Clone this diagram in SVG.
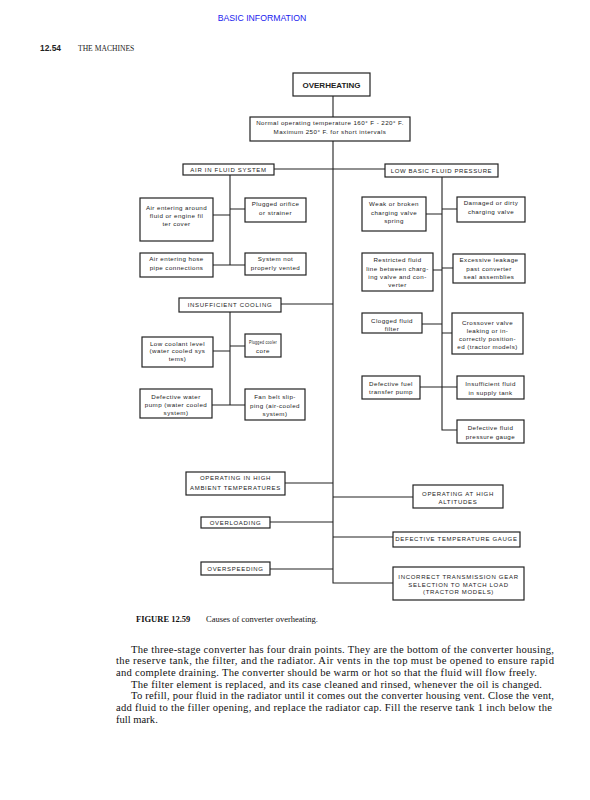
<svg xmlns="http://www.w3.org/2000/svg" width="590" height="800" viewBox="0 0 590 800">
<style>
.bx{fill:#fff;stroke:#222;stroke-width:1.2}
.cn{fill:none;stroke:#222;stroke-width:1.1}
.t{font-family:"Liberation Sans",Arial,sans-serif;font-size:6.2px;letter-spacing:0.45px;fill:#222;text-anchor:middle}
.u{font-family:"Liberation Sans",Arial,sans-serif;font-size:6px;letter-spacing:0.7px;fill:#222;text-anchor:middle}
.body{font-family:"Liberation Serif","Times New Roman",serif;font-size:10.6px;fill:#111}
</style>
<rect width="590" height="800" fill="#fff"/>
<text x="262" y="21" font-family="Liberation Sans,Arial,sans-serif" font-size="8.7" fill="#1a1aee" text-anchor="middle">BASIC INFORMATION</text>
<text x="40" y="50.5" font-family="Liberation Sans,Arial,sans-serif" font-size="8.4" font-weight="bold" fill="#222">12.54</text>
<text x="78" y="50.5" font-family="Liberation Serif,Times New Roman,serif" font-size="7.6" fill="#222">THE MACHINES</text>

<g id="connectors">
<path class="cn" d="M333,96 V117 M333,141 V583 H393"/>
<path class="cn" d="M274,169 H385"/>
<path class="cn" d="M230,175 V265 M213,215 H230 M230,209 H245 M213,265 H245"/>
<path class="cn" d="M281,304 H333 M230,312 V405 M213,351 H230 M230,346 H245 M212,405 H245"/>
<path class="cn" d="M442,177 V430 H457 M426,214 H442 M442,209 H457 M433,270 H442 M442,268 H453 M422,324 H442 M442,333 H452 M420,387 H457"/>
<path class="cn" d="M285,483 H333 M333,497 H413 M270,522 H333 M333,537 H393 M270,569 H333"/>
</g>

<g id="overheating"><rect class="bx" x="293" y="73" width="77" height="23"/><text x="331.5" y="87.5" font-family="Liberation Sans,Arial,sans-serif" font-size="8" font-weight="bold" fill="#222" text-anchor="middle">OVERHEATING</text></g>
<g id="normal"><rect class="bx" x="250" y="117" width="160" height="24"/><text class="t" x="330" y="124.5">Normal operating temperature 160° F - 220° F.</text><text class="t" x="330" y="133.5">Maximum 250° F. for short intervals</text></g>
<g id="air-in-fluid"><rect class="bx" x="183" y="164" width="91" height="11"/><text class="u" x="228.5" y="171.9">AIR IN FLUID SYSTEM</text></g>
<g id="low-basic"><rect class="bx" x="385" y="164" width="113" height="13"/><text class="u" x="441.5" y="172.9" style="letter-spacing:0.6px">LOW BASIC FLUID PRESSURE</text></g>
<g id="air-around"><rect class="bx" x="140" y="198" width="73" height="43"/><text class="t" x="176.5" y="210.2">Air entering around</text><text class="t" x="176.5" y="218.2">fluid or engine fil</text><text class="t" x="176.5" y="226.4">ter cover</text></g>
<g id="plugged-orifice"><rect class="bx" x="245" y="198" width="61" height="24"/><text class="t" x="275.5" y="206.2">Plugged orifice</text><text class="t" x="275.5" y="215.2">or strainer</text></g>
<g id="air-hose"><rect class="bx" x="140" y="253" width="73" height="24"/><text class="t" x="176.5" y="261.2">Air entering hose</text><text class="t" x="176.5" y="270.2">pipe connections</text></g>
<g id="system-not-vented"><rect class="bx" x="245" y="253" width="61" height="22"/><text class="t" x="275.5" y="261.2">System not</text><text class="t" x="275.5" y="270.2">properly vented</text></g>
<g id="insufficient-cooling"><rect class="bx" x="179" y="298" width="102" height="14"/><text class="u" x="230" y="307.2">INSUFFICIENT COOLING</text></g>
<g id="low-coolant"><rect class="bx" x="142" y="337" width="71" height="30"/><text class="t" x="177.5" y="345.5">Low coolant level</text><text class="t" x="177.5" y="353.3">(water cooled sys</text><text class="t" x="177.5" y="361.2">tems)</text></g>
<g id="plugged-cooler"><rect class="bx" x="245" y="334" width="36" height="23"/><text class="t" x="263" y="344.2" textLength="28" lengthAdjust="spacingAndGlyphs">Plugged cooler</text><text class="t" x="263" y="353.2">core</text></g>
<g id="water-pump"><rect class="bx" x="140" y="389" width="72" height="29"/><text class="t" x="176" y="399.2">Defective water</text><text class="t" x="176" y="407.2">pump (water cooled</text><text class="t" x="176" y="415.2">system)</text></g>
<g id="fan-belt"><rect class="bx" x="245" y="389" width="60" height="31"/><text class="t" x="275" y="399.2">Fan belt slip-</text><text class="t" x="275" y="408">ping (air-cooled</text><text class="t" x="275" y="416.2">system)</text></g>
<g id="weak-spring"><rect class="bx" x="362" y="197" width="64" height="34"/><text class="t" x="394" y="206.2">Weak or broken</text><text class="t" x="394" y="214.7">charging valve</text><text class="t" x="394" y="223.2">spring</text></g>
<g id="damaged-valve"><rect class="bx" x="457" y="197" width="68" height="25"/><text class="t" x="491" y="205.2">Damaged or dirty</text><text class="t" x="491" y="214.2">charging valve</text></g>
<g id="restricted-line"><rect class="bx" x="362" y="253" width="71" height="38"/><text class="t" x="397.5" y="262.2">Restricted fluid</text><text class="t" x="397.5" y="270.5">line between charg-</text><text class="t" x="397.5" y="278.9">ing valve and con-</text><text class="t" x="397.5" y="287.2">verter</text></g>
<g id="excessive-leakage"><rect class="bx" x="453" y="254" width="72" height="29"/><text class="t" x="489" y="262.2">Excessive leakage</text><text class="t" x="489" y="270.5">past converter</text><text class="t" x="489" y="278.9">seal assemblies</text></g>
<g id="clogged-filter"><rect class="bx" x="362" y="313" width="60" height="20"/><text class="t" x="392" y="322.9">Clogged fluid</text><text class="t" x="392" y="331.2">filter</text></g>
<g id="crossover-valve"><rect class="bx" x="452" y="313" width="71" height="41"/><text class="t" x="487.5" y="325.2">Crossover valve</text><text class="t" x="487.5" y="333.2">leaking or in-</text><text class="t" x="487.5" y="341.2">correctly position-</text><text class="t" x="487.5" y="349.2">ed (tractor models)</text></g>
<g id="fuel-pump"><rect class="bx" x="362" y="376" width="58" height="23"/><text class="t" x="391" y="386.2">Defective fuel</text><text class="t" x="391" y="394.2">transfer pump</text></g>
<g id="supply-tank"><rect class="bx" x="457" y="376" width="67" height="23"/><text class="t" x="490.5" y="386.2">Insufficient fluid</text><text class="t" x="490.5" y="395.2">in supply tank</text></g>
<g id="pressure-gauge"><rect class="bx" x="457" y="420" width="67" height="23"/><text class="t" x="490.5" y="430.2">Defective fluid</text><text class="t" x="490.5" y="439.2">pressure gauge</text></g>
<g id="high-ambient"><rect class="bx" x="186" y="472" width="99" height="23"/><text class="u" x="235.5" y="480.2">OPERATING IN HIGH</text><text class="u" x="235.5" y="490.2">AMBIENT TEMPERATURES</text></g>
<g id="high-altitudes"><rect class="bx" x="413" y="485" width="90" height="23"/><text class="u" x="458" y="496.2">OPERATING AT HIGH</text><text class="u" x="458" y="504.2">ALTITUDES</text></g>
<g id="overloading"><rect class="bx" x="201" y="517" width="69" height="11"/><text class="u" x="235.5" y="525.2">OVERLOADING</text></g>
<g id="temp-gauge"><rect class="bx" x="393" y="532" width="127" height="15"/><text class="u" x="456.5" y="541.2">DEFECTIVE TEMPERATURE GAUGE</text></g>
<g id="overspeeding"><rect class="bx" x="201" y="562" width="69" height="13"/><text class="u" x="235.5" y="571.2">OVERSPEEDING</text></g>
<g id="incorrect-gear"><rect class="bx" x="393" y="567" width="131" height="33"/><text class="u" x="458.5" y="579.2">INCORRECT TRANSMISSION GEAR</text><text class="u" x="458.5" y="586.7">SELECTION TO MATCH LOAD</text><text class="u" x="458.5" y="594.2">(TRACTOR MODELS)</text></g>

<text x="136" y="622" font-family="Liberation Serif,Times New Roman,serif" font-size="8.5" fill="#111"><tspan font-weight="bold">FIGURE 12.59</tspan><tspan x="206">Causes of converter overheating.</tspan></text>

<text class="body" x="131" y="652.5" textLength="423" lengthAdjust="spacing">The three-stage converter has four drain points. They are the bottom of the converter housing,</text>
<text class="body" x="116" y="664.2" textLength="438" lengthAdjust="spacing">the reserve tank, the filter, and the radiator. Air vents in the top must be opened to ensure rapid</text>
<text class="body" x="116" y="675.9" textLength="421" lengthAdjust="spacing">and complete draining. The converter should be warm or hot so that the fluid will flow freely.</text>
<text class="body" x="131" y="687.6" textLength="411" lengthAdjust="spacing">The filter element is replaced, and its case cleaned and rinsed, whenever the oil is changed.</text>
<text class="body" x="131" y="699.3" textLength="423" lengthAdjust="spacing">To refill, pour fluid in the radiator until it comes out the converter housing vent. Close the vent,</text>
<text class="body" x="116" y="711" textLength="436" lengthAdjust="spacing">add fluid to the filler opening, and replace the radiator cap. Fill the reserve tank 1 inch below the</text>
<text class="body" x="116" y="722.7">full mark.</text>
</svg>
